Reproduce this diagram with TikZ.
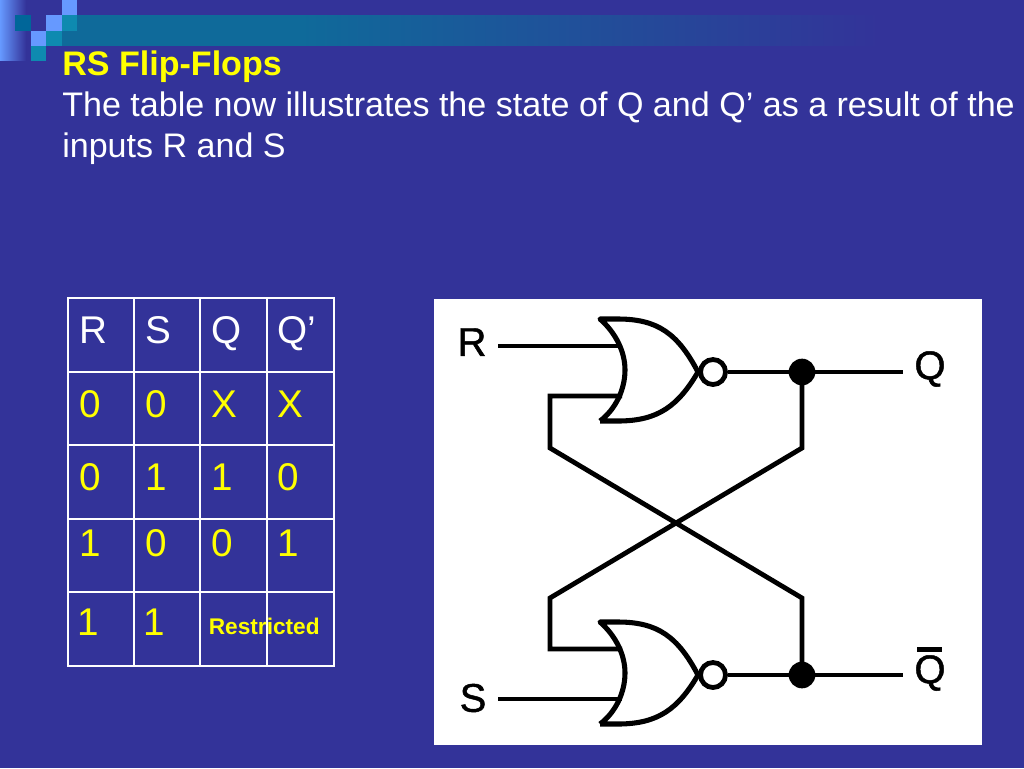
\documentclass[tikz,border=0pt]{standalone}
\usepackage{fontspec}
\setmainfont{Liberation Sans}
\newfontfamily\gatefont[FakeBold=1.2]{Liberation Sans}
\usepackage{xcolor}
\usetikzlibrary{positioning}
\definecolor{slidebg}{HTML}{333399}
\definecolor{bandteal}{HTML}{0F6A9A}
\definecolor{tealdark}{HTML}{006699}
\definecolor{teallight}{HTML}{0E8AB0}
\definecolor{sqblue}{HTML}{6699FF}
\definecolor{textyellow}{HTML}{FFFF00}
\tikzset{
  norgate/.pic={
    \draw[line width=3.8pt, fill=white, line join=round] (-98,49) -- (-80,49) .. controls (-40,49) and (-20,34) .. (0,0)
      .. controls (-20,-38) and (-40,-53) .. (-80,-53) -- (-98,-53)
      .. controls (-82,-39) and (-73,-20) .. (-73,-2) .. controls (-73,17) and (-82,37) .. (-98,49);
    \node[bubble] (-bub) at (15,0) {};
    \coordinate (-ina) at (-76,-26);
    \coordinate (-inb) at (-76,24);
  }
}
\begin{document}
\begin{tikzpicture}[x=0.75pt,y=-0.75pt,on grid,
    wire/.style={line width=3.6pt},
    bubble/.style={circle, draw, line width=3.6pt, fill=white, minimum size=18.75pt, inner sep=0pt},
    joint/.style={circle, fill=black, minimum size=20pt, inner sep=0pt},
    headline/.style={anchor=base west, inner sep=0pt, font=\fontsize{25.55}{30}\selectfont},
    cell/.style={text=textyellow, inner sep=0pt, text width=30pt, text height=21.5pt, text depth=0pt,
      align=left, font=\fontsize{29}{32}\selectfont},
    headcell/.style={cell, text=white},
    gatelabel/.style={inner sep=0pt, font=\gatefont\fontsize{30}{32}\selectfont}]
  \useasboundingbox (0,0) rectangle (1024,768);
  \fill[slidebg] (0,0) rectangle (1024,768);
  % header decoration
  \shade[left color=sqblue, right color=slidebg] (0,0) rectangle (26,60);
  \fill[bandteal] (62,15) rectangle (300.5,46.4);
  \shade[left color=bandteal, right color=slidebg] (300,15) rectangle (880,45.8);
  \fill[sqblue] (62,0) rectangle (77,15);
  \fill[tealdark] (15,15) rectangle (31,31);
  \fill[sqblue] (46,15) rectangle (62,31);
  \fill[teallight] (62,15) rectangle (77,31);
  \fill[sqblue] (31,31) rectangle (46,46);
  \fill[teallight] (46,31) rectangle (62,46);
  \fill[teallight] (31,46) rectangle (46,61);
  % text
  \node[headline, text=textyellow] (title) at (62,75) {\bfseries RS Flip-Flops};
  \node[headline, text=white] (lineone) at (62,116) {The table now illustrates the state of Q and Q’ as a result of the};
  \node[headline, text=white] (linetwo) at (62,157) {inputs R and S};
  % table
  \draw[white, line width=1.1pt] (134,298) -- (134,666) (200,298) -- (200,666) (267,298) -- (267,666)
    (68,372) -- (334,372) (68,445) -- (334,445) (68,519) -- (334,519) (68,592) -- (334,592);
  \draw[white, line width=2.2pt] (68,298) rectangle (334,666);
  \node[headcell] (hr) at (99.5,328.67) {R};
  \node[headcell] (hs) [right=49.5pt of hr] {S};
  \node[headcell] (hq) [right=49.5pt of hs] {Q};
  \node[headcell] (hp) [right=49.5pt of hq] {Q’};
  \node[cell] (a0) [below=55.5pt of hr] {0};
  \node[cell] (a1) [right=49.5pt of a0] {0};
  \node[cell] (a2) [right=49.5pt of a1] {X};
  \node[cell] (a3) [right=49.5pt of a2] {X};
  \node[cell] (b0) [below=54.75pt of a0] {0};
  \node[cell] (b1) [right=49.5pt of b0] {1};
  \node[cell] (b2) [right=49.5pt of b1] {1};
  \node[cell] (b3) [right=49.5pt of b2] {0};
  \node[cell] (c0) [below=49.5pt of b0] {1};
  \node[cell] (c1) [right=49.5pt of c0] {0};
  \node[cell] (c2) [right=49.5pt of c1] {0};
  \node[cell] (c3) [right=49.5pt of c2] {1};
  \node[cell] (d0) [below=59.25pt of c0, xshift=-1.5pt] {1};
  \node[cell] (d1) [right=49.5pt of d0] {1};
  \node[cell, font=\fontsize{17}{20}\selectfont\bfseries, text height=12.2pt] (d2) [right=49pt of d1, yshift=-4.5pt] {\mbox{Restricted}};
  % circuit
  \fill[white] (434,299) rectangle (982,745);
  \pic (top) at (698,372) {norgate};
  \pic (bot) at (698,675) {norgate};
  \node[joint] (jtop) at (802,372) {};
  \node[joint] (jbot) at (802,675) {};
  \coordinate (rin) at (498,346);
  \coordinate (sin) at (498,699);
  \coordinate (qend) at (903,372);
  \coordinate (nend) at (903,675);
  \coordinate (fa) at (550,396);
  \coordinate (fb) at (550,448);
  \coordinate (fc) at (802,598);
  \coordinate (ga) at (550,649);
  \coordinate (gb) at (550,598);
  \coordinate (gc) at (802,448);
  \draw[wire] (rin) -- (top-ina);
  \draw[wire] (sin) -- (bot-inb);
  \draw[wire] (top-inb) -- (fa) -- (fb) -- (fc) -- (jbot.center);
  \draw[wire] (bot-ina) -- (ga) -- (gb) -- (gc) -- (jtop.center);
  \draw[wire] (top-bub) -- (jtop.center) -- (qend);
  \draw[wire] (bot-bub) -- (jbot.center) -- (nend);
  \node[gatelabel] (lr) at (472,342) {R};
  \node[gatelabel] (ls) at (473,698) {S};
  \node[gatelabel] (lq) at (930,369) {Q};
  \node[gatelabel] (ln) at (930,673) {Q};
  \node[fill=black, minimum width=18.75pt, minimum height=3.5pt, inner sep=0pt] (nbar) at (929.5,649.5) {};
\end{tikzpicture}
\end{document}
